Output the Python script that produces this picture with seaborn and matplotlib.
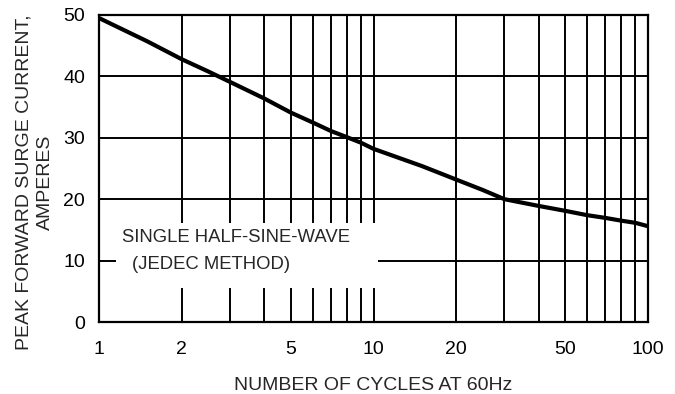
import matplotlib
matplotlib.use("Agg")
import matplotlib.pyplot as plt
import seaborn as sns
import pandas as pd
from matplotlib.patches import Rectangle

# valores
cycles = [1, 1.5, 2, 2.5, 3, 4, 5, 6, 7, 8, 9, 10, 15, 20, 25, 30,
          40, 50, 60, 70, 80, 90, 100]
current = [49.5, 45.7, 42.8, 40.8, 39.1, 36.4, 34.1, 32.5, 31.1, 30.1, 29.2,
           28.2, 25.4, 23.2, 21.5, 20.0, 18.9, 18.1, 17.4, 16.95, 16.5,
           16.15, 15.6]

xticks = [1, 2, 5, 10, 20, 50, 100]
xticklabels = ["1", "2", "5", "10", "20", "50", "100"]
yticks = [0, 10, 20, 30, 40, 50]
minor_x = [3, 4, 6, 7, 8, 9, 30, 40, 60, 70, 80, 90]

data = pd.DataFrame({"ciclos": cycles, "corriente": current})

sns.set_style("white")
plt.rcParams["font.family"] = ["Liberation Sans", "DejaVu Sans"]

fig = plt.figure(figsize=(6.75, 3.94), dpi=100)
ax = fig.add_axes([0.1467, 0.1827, 0.8133, 0.7793])

sns.lineplot(data=data, x="ciclos", y="corriente", ax=ax, color="black",
             linewidth=3, zorder=5)

ax.set_xscale("log")
ax.set_xlim(1, 100)
ax.set_ylim(0, 50)
ax.set_xticks(xticks)
ax.set_xticklabels(xticklabels)
ax.set_xticks(minor_x, minor=True)
ax.set_xticklabels([], minor=True)
ax.set_yticks(yticks)

ax.grid(True, which="both", color="black", linewidth=1.4)
ax.tick_params(axis="both", which="both", length=0, labelsize=14, colors="black")
ax.tick_params(axis="x", pad=14)
ax.tick_params(axis="y", pad=10)
for s in ax.spines.values():
    s.set_color("black")
    s.set_linewidth(1.6)

# caja blanca del texto
ax.add_patch(Rectangle((1.15, 5.5), 10.4 - 1.15, 16.1 - 5.5, facecolor="white",
                       edgecolor="none", zorder=3))
ax.text(1.21, 13.7, "SINGLE HALF-SINE-WAVE", fontsize=13.3, va="center", zorder=4)
ax.text(1.32, 9.3, "(JEDEC METHOD)", fontsize=13.3, va="center", zorder=4)

ax.set_xlabel("NUMBER OF CYCLES AT 60Hz", fontsize=14, labelpad=13)
ax.set_ylabel("PEAK FORWARD SURGE CURRENT,\nAMPERES", fontsize=14,
              linespacing=1.35)
ax.yaxis.set_label_coords(-0.082, 0.456)

fig.savefig("out.png", dpi=100)
